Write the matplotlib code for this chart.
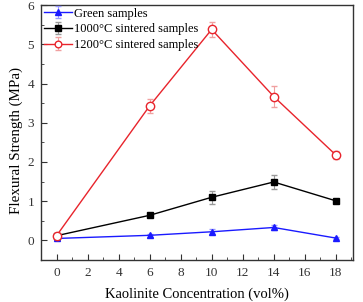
import matplotlib
matplotlib.use('Agg')
import matplotlib.pyplot as plt
from matplotlib.ticker import MultipleLocator

plt.rcParams['font.family'] = ['Liberation Serif', 'DejaVu Serif']

# Data
conc = [0, 6, 10, 14, 18]
green = [0.05, 0.13, 0.22, 0.33, 0.06]
green_err = [0.03, 0.04, 0.06, 0.06, 0.03]
s1000 = [0.12, 0.64, 1.10, 1.49, 1.01]
s1000_err = [0.03, 0.05, 0.17, 0.19, 0.05]
s1200 = [0.12, 3.43, 5.38, 3.67, 2.18]
s1200_err = [0.03, 0.18, 0.20, 0.26, 0.10]

fig = plt.figure(figsize=(3.63, 3.02), dpi=100)
ax = fig.add_axes([0.113, 0.139, 0.859, 0.844])

ax.errorbar(conc, green, yerr=green_err, color='#1a1aff', marker='^', ms=5,
            lw=1, ecolor='#9999ff', capsize=2, elinewidth=0.8, label='Green samples')
ax.errorbar(conc, s1000, yerr=s1000_err, color='black', marker='s', ms=5,
            lw=1, ecolor='#999999', capsize=2, elinewidth=0.8, label='1000°C sintered samples')
ax.errorbar(conc, s1200, yerr=s1200_err, color='#e8242c', marker='o', ms=6,
            mfc='white', mec='#e8242c', lw=1, ecolor='#f0a0a0', capsize=2,
            elinewidth=0.8, label='1200°C sintered samples')

ax.set_xlim(-1, 19.1)
ax.set_ylim(-0.5, 6)
ax.set_xticks(range(0, 19, 2))
ax.set_yticks(range(0, 7))
ax.xaxis.set_minor_locator(MultipleLocator(1))
ax.yaxis.set_minor_locator(MultipleLocator(0.5))
ax.tick_params(which='both', direction='in', top=False, right=False, labelsize=9.5, colors='#333333', labelcolor='#333333')
ax.tick_params(which='major', length=4, pad=5)
ax.tick_params(which='minor', length=2)
for s in ax.spines.values():
    s.set_linewidth(1)
    s.set_color('#333333')

ax.set_xlabel('Kaolinite Concentration (vol%)', fontsize=10.5, labelpad=6)
ax.set_ylabel('Flexural Strength (MPa)', fontsize=10.8)
ax.yaxis.set_label_coords(-0.058, 0.467)

ax.legend(loc='upper left', frameon=False, fontsize=9, bbox_to_anchor=(-0.005, 1.01),
          handlelength=2.2, handletextpad=0.2, labelspacing=0.3, borderaxespad=0,
          markerscale=0.8)

fig.savefig('out.png', dpi=100)
